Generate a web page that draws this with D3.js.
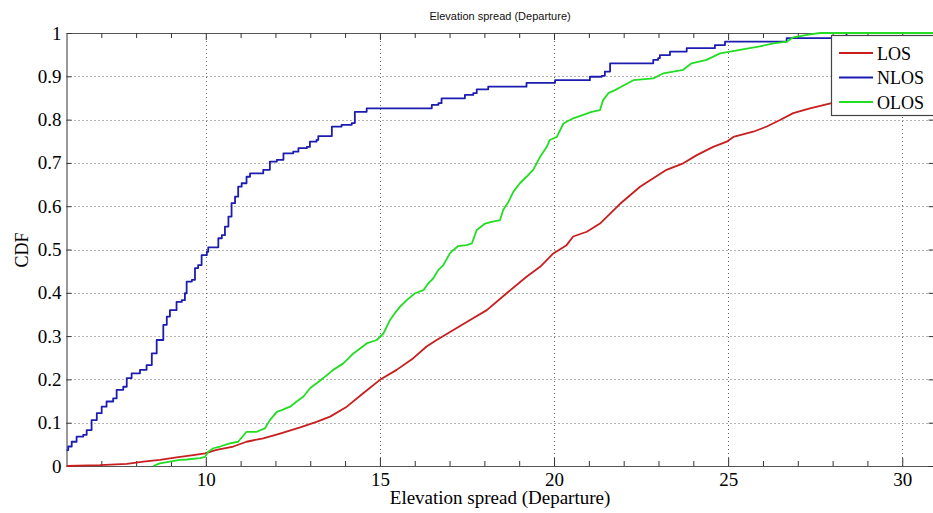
<!DOCTYPE html>
<html>
<head>
<meta charset="utf-8">
<script src="https://cdn.jsdelivr.net/npm/d3@7"></script>
<style>
  html, body { margin: 0; padding: 0; background: #fff; }
  svg { display: block; }
</style>
</head>
<body>
<svg id="chart" width="933" height="513"></svg>
<script>
// Empirical CDFs of elevation spread at departure
const seriesNames = ["LOS", "NLOS", "OLOS"];
const seriesColors = ["#c81e1e", "#1c1cb0", "#22dd22"];

const losX = [6.0, 6.96, 7.73, 8.21, 8.68, 9.16, 9.64, 9.98, 10.31, 10.79, 11.17, 11.65, 12.13, 12.71, 13.18, 13.57, 14.05, 14.52, 15.0, 15.48, 15.96, 16.34, 16.63, 17.11, 17.59, 18.07, 18.64, 19.21, 19.6, 19.98, 20.36, 20.55, 20.94, 21.32, 21.89, 22.47, 23.23, 23.71, 24.1, 24.57, 24.96, 25.15, 25.72, 26.11, 26.49, 26.87, 27.35, 27.97, 28.6, 29.3, 30.0, 30.9];
const losCdf = [0, 0.002, 0.005, 0.01, 0.014, 0.02, 0.025, 0.029, 0.037, 0.045, 0.056, 0.064, 0.075, 0.089, 0.102, 0.114, 0.137, 0.168, 0.199, 0.222, 0.249, 0.276, 0.291, 0.314, 0.337, 0.36, 0.399, 0.437, 0.46, 0.491, 0.51, 0.53, 0.541, 0.56, 0.605, 0.645, 0.684, 0.699, 0.718, 0.737, 0.749, 0.76, 0.772, 0.784, 0.799, 0.815, 0.826, 0.838, 0.85, 0.865, 0.878, 0.891];

const nlosX = [6.0, 6.05, 6.15, 6.29, 6.48, 6.58, 6.72, 6.87, 7.01, 7.15, 7.34, 7.44, 7.63, 7.73, 7.87, 8.11, 8.3, 8.45, 8.59, 8.78, 8.88, 8.97, 9.16, 9.31, 9.4, 9.45, 9.6, 9.69, 9.78, 9.88, 10.03, 10.07, 10.22, 10.36, 10.46, 10.55, 10.65, 10.74, 10.84, 10.93, 11.03, 11.17, 11.27, 11.51, 11.65, 11.84, 12.04, 12.23, 12.51, 12.66, 12.9, 12.99, 13.18, 13.23, 13.52, 13.62, 13.9, 14.19, 14.28, 14.62, 16.44, 16.49, 16.68, 16.77, 17.39, 17.44, 17.68, 17.78, 18.11, 19.17, 19.21, 20.03, 20.98, 21.03, 21.37, 21.46, 21.61, 22.8, 22.85, 22.99, 23.04, 23.33, 23.81, 24.62, 24.91, 26.49, 26.68, 28.3, 28.4, 30.9];
const nlosCdf = [0.037, 0.045, 0.056, 0.068, 0.072, 0.083, 0.106, 0.122, 0.137, 0.149, 0.156, 0.176, 0.183, 0.203, 0.214, 0.222, 0.233, 0.26, 0.291, 0.326, 0.345, 0.36, 0.379, 0.383, 0.399, 0.426, 0.43, 0.457, 0.464, 0.487, 0.495, 0.505, 0.505, 0.526, 0.533, 0.553, 0.576, 0.607, 0.622, 0.645, 0.653, 0.668, 0.676, 0.676, 0.684, 0.703, 0.707, 0.722, 0.726, 0.734, 0.737, 0.749, 0.753, 0.762, 0.762, 0.784, 0.788, 0.792, 0.818, 0.826, 0.826, 0.834, 0.838, 0.849, 0.849, 0.857, 0.861, 0.87, 0.876, 0.876, 0.885, 0.891, 0.891, 0.899, 0.901, 0.911, 0.93, 0.93, 0.938, 0.942, 0.949, 0.957, 0.965, 0.972, 0.98, 0.98, 0.988, 0.988, 1.0, 1.0];

const olosX = [8.49, 8.68, 8.97, 9.26, 9.45, 9.83, 9.98, 10.07, 10.22, 10.41, 10.69, 10.93, 11.17, 11.46, 11.7, 11.84, 12.04, 12.18, 12.42, 12.61, 12.8, 13.0, 13.28, 13.66, 13.95, 14.24, 14.62, 14.91, 15.1, 15.29, 15.43, 15.58, 15.77, 16.01, 16.25, 16.39, 16.53, 16.68, 16.82, 17.01, 17.11, 17.25, 17.49, 17.64, 17.78, 18.02, 18.21, 18.45, 18.54, 18.69, 18.83, 19.02, 19.21, 19.4, 19.6, 19.79, 19.88, 20.08, 20.27, 20.55, 20.84, 21.08, 21.32, 21.41, 21.56, 21.75, 21.89, 22.28, 22.85, 23.14, 23.71, 23.95, 24.38, 24.77, 25.34, 25.91, 26.3, 26.68, 26.87, 27.35, 27.64, 30.9];
const olosCdf = [0, 0.006, 0.01, 0.014, 0.015, 0.018, 0.021, 0.033, 0.041, 0.045, 0.052, 0.056, 0.079, 0.079, 0.087, 0.106, 0.125, 0.129, 0.137, 0.149, 0.16, 0.18, 0.197, 0.222, 0.237, 0.26, 0.283, 0.291, 0.306, 0.337, 0.353, 0.368, 0.383, 0.399, 0.406, 0.422, 0.433, 0.453, 0.464, 0.491, 0.499, 0.508, 0.51, 0.514, 0.545, 0.56, 0.564, 0.568, 0.591, 0.61, 0.633, 0.653, 0.668, 0.684, 0.714, 0.737, 0.753, 0.76, 0.791, 0.803, 0.811, 0.818, 0.822, 0.845, 0.861, 0.868, 0.874, 0.891, 0.895, 0.907, 0.915, 0.93, 0.938, 0.953, 0.961, 0.969, 0.976, 0.98, 0.99, 0.997, 1.0, 1.0];

const xMajorTicks = [10, 15, 20, 25, 30];
const xMinorTicks = [7, 8, 9, 11, 12, 13, 14, 16, 17, 18, 19, 21, 22, 23, 24, 26, 27, 28, 29];
const yTicks = [0, 0.1, 0.2, 0.3, 0.4, 0.5, 0.6, 0.7, 0.8, 0.9, 1];
const yTickLabels = ["0", "0.1", "0.2", "0.3", "0.4", "0.5", "0.6", "0.7", "0.8", "0.9", "1"];

const chartTitle = "Elevation spread (Departure)";
const xLabel = "Elevation spread (Departure)";
const yLabel = "CDF";

const svg = d3.select("#chart");
const plotLeft = 66.5, plotRight = 933.6, plotTop = 33, plotBottom = 466;

const x = d3.scaleLinear().domain([6, 30.9]).range([plotLeft, plotRight]);
const y = d3.scaleLinear().domain([0, 1]).range([plotBottom, plotTop]);

const serif = "'Liberation Serif', 'Times New Roman', serif";

svg.append("defs").append("clipPath").attr("id", "plotClip")
  .append("rect").attr("x", plotLeft).attr("y", plotTop - 2)
  .attr("width", plotRight - plotLeft).attr("height", plotBottom - plotTop + 4);

// Dotted grid
const grid = svg.append("g").attr("stroke", "#333").attr("stroke-width", 1)
  .attr("stroke-dasharray", "1,3").attr("opacity", 0.75);
grid.selectAll("line.gx").data(xMajorTicks).join("line")
  .attr("x1", d => Math.round(x(d)) + 0.5).attr("x2", d => Math.round(x(d)) + 0.5)
  .attr("y1", plotTop).attr("y2", plotBottom);
grid.selectAll("line.gy").data(yTicks.slice(1, -1)).join("line")
  .attr("x1", plotLeft).attr("x2", plotRight)
  .attr("y1", d => Math.round(y(d)) + 0.5).attr("y2", d => Math.round(y(d)) + 0.5);

// Axes (D3 axes with inward ticks, box on all sides)
const axisColor = "#555";
function styleAxis(g) {
  g.select(".domain").attr("stroke", axisColor).attr("stroke-width", 1.2);
  g.selectAll(".tick line").attr("stroke", "#333");
  g.selectAll(".tick text").attr("fill", "#000").attr("font-family", serif).attr("font-size", 19);
}
function minorStyle(g) {
  g.select(".domain").remove();
  g.selectAll(".tick line").attr("stroke", "#333");
}

svg.append("g").attr("transform", `translate(0,${plotBottom})`)
  .call(d3.axisBottom(x).tickValues(xMajorTicks).tickSizeInner(-8).tickSizeOuter(0).tickPadding(7))
  .call(styleAxis);
svg.append("g").attr("transform", `translate(0,${plotBottom})`)
  .call(d3.axisBottom(x).tickValues(xMinorTicks).tickSizeInner(-5).tickSizeOuter(0).tickFormat(""))
  .call(minorStyle);

svg.append("g").attr("transform", `translate(0,${plotTop})`)
  .call(d3.axisTop(x).tickValues(xMajorTicks).tickSizeInner(-7).tickSizeOuter(0).tickFormat(""))
  .call(styleAxis);
svg.append("g").attr("transform", `translate(0,${plotTop})`)
  .call(d3.axisTop(x).tickValues(xMinorTicks).tickSizeInner(-5).tickSizeOuter(0).tickFormat(""))
  .call(minorStyle);

svg.append("g").attr("transform", `translate(${plotLeft},0)`)
  .call(d3.axisLeft(y).tickValues(yTicks).tickFormat((d, i) => yTickLabels[i]).tickSizeInner(-5).tickSizeOuter(0).tickPadding(5))
  .call(styleAxis);
svg.append("g").attr("transform", `translate(${plotRight},0)`)
  .call(d3.axisRight(y).tickValues(yTicks).tickSizeInner(-5).tickSizeOuter(0).tickFormat(""))
  .call(styleAxis);

// Curves
const series = [
  { xs: losX, ys: losCdf, curve: d3.curveLinear },
  { xs: nlosX, ys: nlosCdf, curve: d3.curveStepAfter },
  { xs: olosX, ys: olosCdf, curve: d3.curveLinear }
];
const plot = svg.append("g").attr("clip-path", "url(#plotClip)");
series.forEach((s, i) => {
  const pts = s.xs.map((v, k) => [v, s.ys[k]]);
  const line = d3.line().x(d => x(d[0])).y(d => y(d[1])).curve(s.curve);
  plot.append("path").datum(pts)
    .attr("fill", "none").attr("stroke", seriesColors[i]).attr("stroke-width", 1.8)
    .attr("stroke-linejoin", "round").attr("d", line);
});

// Title and axis labels
svg.append("text").attr("x", (plotLeft + plotRight) / 2).attr("y", 20).attr("text-anchor", "middle")
  .attr("font-family", "'Liberation Sans', Arial, sans-serif").attr("font-size", 11).attr("fill", "#111")
  .text(chartTitle);
svg.append("text").attr("x", (plotLeft + plotRight) / 2).attr("y", 504).attr("text-anchor", "middle")
  .attr("font-family", serif).attr("font-size", 19).attr("fill", "#000").text(xLabel);
svg.append("text").attr("transform", "translate(28,250) rotate(-90)").attr("text-anchor", "middle")
  .attr("font-family", serif).attr("font-size", 18).attr("fill", "#000").text(yLabel);

// Legend
const legend = svg.append("g");
legend.append("rect").attr("x", 831.5).attr("y", 35.5).attr("width", 106).attr("height", 80)
  .attr("fill", "#fff").attr("stroke", "#444").attr("stroke-width", 1.2);
seriesNames.forEach((name, i) => {
  const ly = 53 + i * 24.5;
  legend.append("line").attr("x1", 839).attr("x2", 873).attr("y1", ly).attr("y2", ly)
    .attr("stroke", seriesColors[i]).attr("stroke-width", 1.8);
  legend.append("text").attr("x", 877).attr("y", ly + 6.5)
    .attr("font-family", serif).attr("font-size", 18).attr("fill", "#000").text(name);
});
</script>
</body>
</html>
